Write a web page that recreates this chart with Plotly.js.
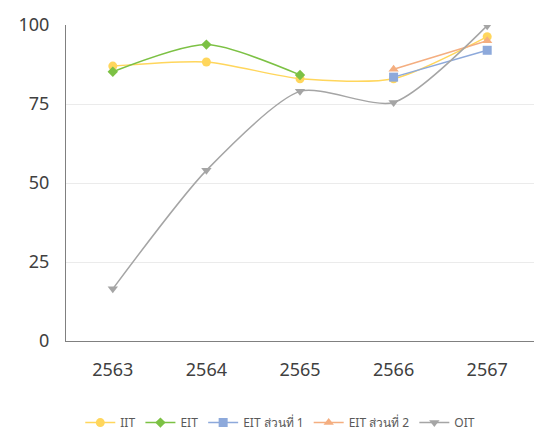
<!DOCTYPE html>
<html><head><meta charset="utf-8">
<script src="https://cdn.plot.ly/plotly-3.0.1.min.js"></script>
<style>html,body{margin:0;padding:0;background:#fff}#c{width:539px;height:433px}</style>
</head><body><div id="c"></div>
<script>
var years = ["2563","2564","2565","2566","2567"];
var iit = [87, 88.3, 83, 83, 96.3];
var eit = [85.2, 93.8, 84.2, null, null];
var eit1 = [null, null, null, 83.5, 92];
var eit2 = [null, null, null, 86, 95];
var oit = [16.5, 54, 79, 75.5, 99.8];

function tr(name, y, color, symbol, shape, size){
  return {x: years, y: y, name: name, type: 'scatter', mode: 'lines+markers',
    line: {color: color, width: 1.5, shape: shape, smoothing: 0.7},
    marker: {color: color, symbol: symbol, size: size},
    connectgaps: false};
}
var data = [
  tr('IIT', iit, '#FFD65C', 'circle', 'spline', 9),
  tr('EIT', eit, '#7CC144', 'diamond', 'spline', 8),
  tr('EIT ส่วนที่ 1', eit1, '#8DA9DB', 'square', 'linear', 9),
  tr('EIT ส่วนที่ 2', eit2, '#F4AE80', 'triangle-up', 'linear', 9),
  tr('OIT', oit, '#A5A5A5', 'triangle-down', 'spline', 9)
];
var layout = {
  width: 539, height: 433,
  margin: {l: 66, r: 5, t: 25, b: 92, autoexpand: false},
  paper_bgcolor: '#fff', plot_bgcolor: '#fff',
  font: {family: 'Noto Sans, Open Sans, sans-serif', color: '#404040'},
  showlegend: true,
  legend: {orientation: 'h', x: 0.52, xref: 'container', xanchor: 'center',
    y: 0.024, yref: 'container', yanchor: 'middle',
    font: {size: 12, color: '#595959'}, itemwidth: 30, tracegroupgap: 0},
  xaxis: {type: 'category', range: [-0.5, 4.5], showgrid: false, zeroline: false,
    showline: true, linecolor: '#808080', linewidth: 1, ticks: '',
    tickfont: {size: 18, color: '#404040'}, ticklabelstandoff: 12, fixedrange: true},
  yaxis: {range: [0, 100], tickvals: [0, 25, 50, 75, 100], showgrid: true,
    gridcolor: '#EBEBEB', zeroline: false, showline: true, linecolor: '#808080',
    linewidth: 1, ticks: '', tickfont: {size: 18, color: '#404040'}, ticklabelstandoff: 12,
    fixedrange: true}
};
Plotly.newPlot('c', data, layout, {displayModeBar: false, staticPlot: true});
</script></body></html>
